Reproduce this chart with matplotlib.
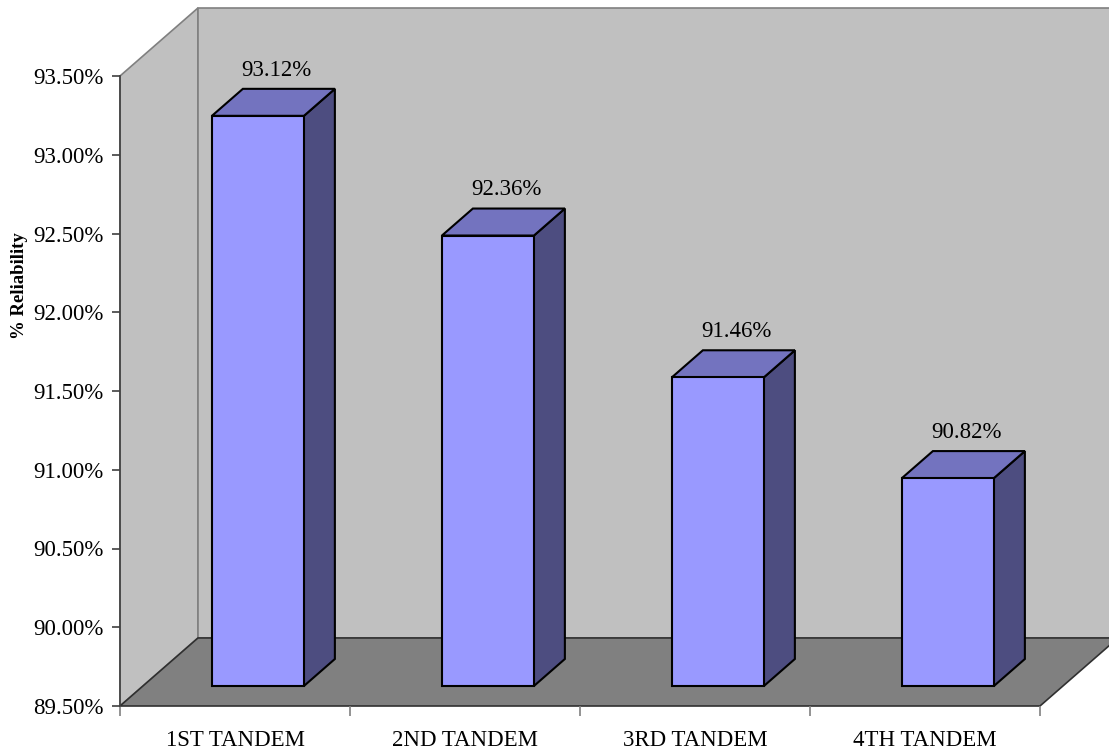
import numpy as np
import matplotlib
matplotlib.use('Agg')
import matplotlib.pyplot as plt
from matplotlib.patches import Polygon

categories = ['1ST TANDEM', '2ND TANDEM', '3RD TANDEM', '4TH TANDEM']
reliability = [93.12, 92.36, 91.46, 90.82]
y_ticks = [89.5, 90.0, 90.5, 91.0, 91.5, 92.0, 92.5, 93.0, 93.5]

plt.rcParams['font.family'] = ['Liberation Serif', 'DejaVu Serif']

ymin, ymax = 89.5, 93.5
# oblique depth of the 3d box, in data units
depth_x, depth_y = 0.339, 0.432
# bars sit in the middle of the depth
bar_front = 0.294
bar_depth = 0.397
bar_width = 0.4

fig = plt.figure(figsize=(11.09, 7.55), dpi=100)
ax = fig.add_axes([120 / 1109, 49 / 755, 920 / 1109, 630 / 755])
ax.set_xlim(0, len(categories))
ax.set_ylim(ymin, ymax)
ax.patch.set_visible(False)
for s in ['top', 'right', 'bottom']:
    ax.spines[s].set_visible(False)
ax.spines['left'].set_color('#404040')
ax.spines['left'].set_linewidth(1.2)

wall_kw = dict(closed=True, clip_on=False, linewidth=1.2)
n = len(categories)
# left side wall
ax.add_patch(Polygon([(0, ymin), (0, ymax), (depth_x, ymax + depth_y), (depth_x, ymin + depth_y)],
                     facecolor='#c0c0c0', edgecolor='#808080', zorder=0, **wall_kw))
# back wall
ax.add_patch(Polygon([(depth_x, ymin + depth_y), (depth_x, ymax + depth_y),
                      (n + depth_x, ymax + depth_y), (n + depth_x, ymin + depth_y)],
                     facecolor='#c0c0c0', edgecolor='#808080', zorder=0, **wall_kw))
# floor
ax.add_patch(Polygon([(0, ymin), (n, ymin), (n + depth_x, ymin + depth_y), (depth_x, ymin + depth_y)],
                     facecolor='#808080', edgecolor='#303030', zorder=1, **wall_kw))

fx, fy = bar_front * depth_x, bar_front * depth_y
bx, by = bar_depth * depth_x, bar_depth * depth_y
for i, v in enumerate(reliability):
    x0 = i + 0.5 - bar_width / 2 + fx
    x1 = x0 + bar_width
    y0 = ymin + fy
    y1 = v + fy
    kw = dict(closed=True, clip_on=False, edgecolor='black', linewidth=1.5, zorder=3)
    ax.add_patch(Polygon([(x1, y0), (x1, y1), (x1 + bx, y1 + by), (x1 + bx, y0 + by)],
                         facecolor='#4d4d80', **kw))
    ax.add_patch(Polygon([(x0, y1), (x1, y1), (x1 + bx, y1 + by), (x0 + bx, y1 + by)],
                         facecolor='#7373bf', **kw))
    ax.add_patch(Polygon([(x0, y0), (x1, y0), (x1, y1), (x0, y1)],
                         facecolor='#9999ff', **kw))
    ax.annotate(f'{v:.2f}%', (i + 0.5 + fx + bx / 2 + 0.015, y1 + by),
                xytext=(0, 6), textcoords='offset points',
                ha='center', va='bottom', fontsize=16.5, zorder=4)

ax.set_yticks(y_ticks)
ax.set_yticklabels([f'{t:.2f}%' for t in y_ticks])
ax.tick_params(axis='y', direction='out', length=6, width=1.2, color='#404040',
               pad=6, labelsize=16.5)

ax.set_xticks(np.arange(n + 1))
ax.set_xticklabels([])
ax.set_xticks(np.arange(n) + 0.5, minor=True)
ax.set_xticklabels(categories, minor=True)
ax.tick_params(axis='x', which='major', direction='out', length=7, width=1.2, color='#808080')
ax.tick_params(axis='x', which='minor', length=0, pad=17, labelsize=16.5)

ax.set_ylabel('% Reliability', fontsize=13.5, fontweight='bold')
ax.yaxis.set_label_coords(-0.1, 0.668)

fig.savefig('out.png', dpi=100)
